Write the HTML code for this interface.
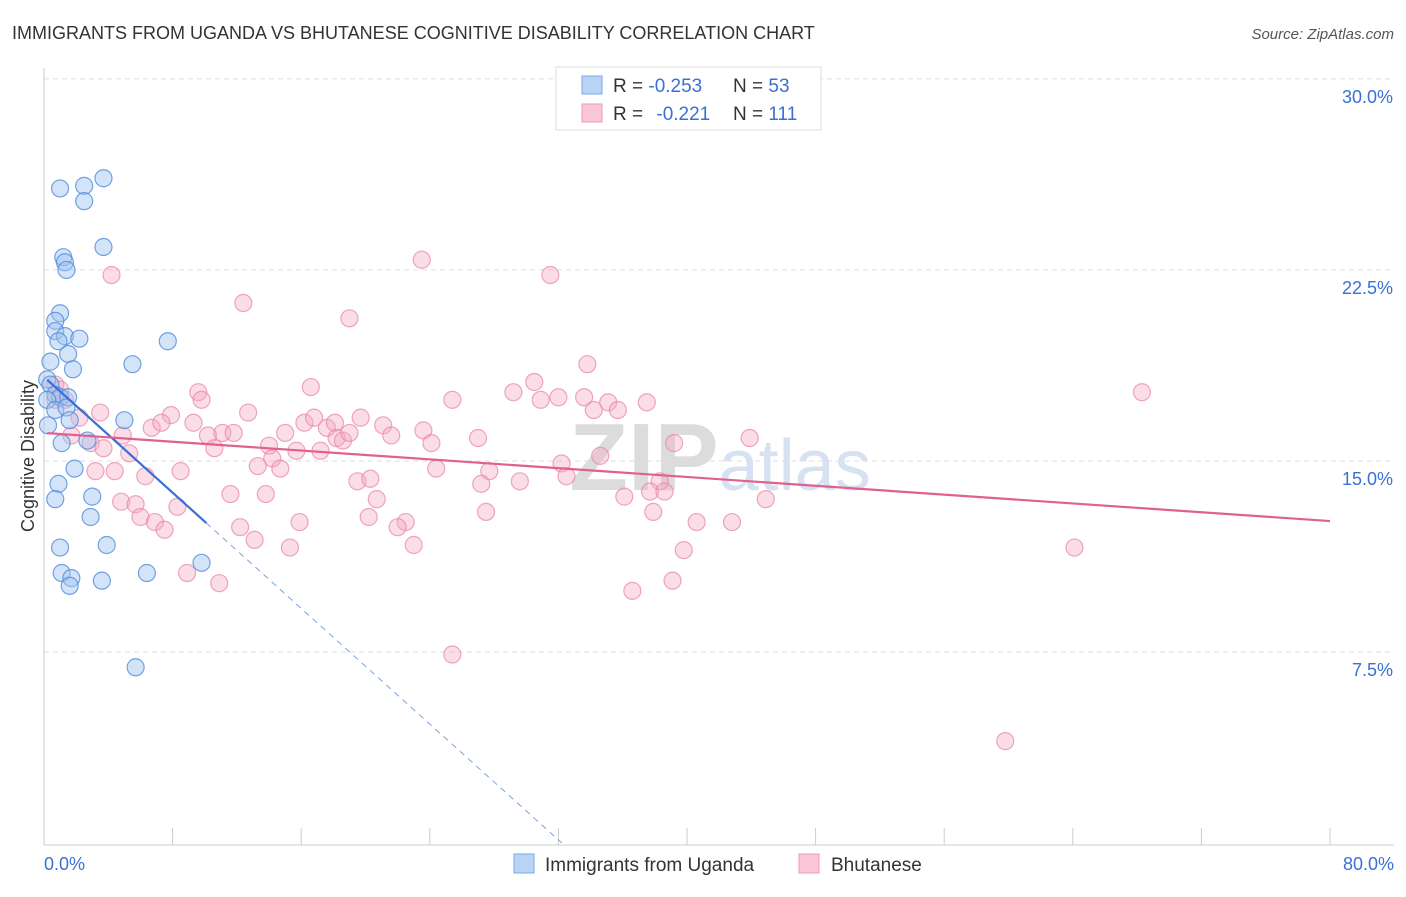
<!DOCTYPE html>
<html><head><meta charset="utf-8"><style>
body{margin:0;background:#fff;font-family:"Liberation Sans",sans-serif;}
svg text{font-family:"Liberation Sans",sans-serif;}
</style></head><body>
<svg id="chart" width="1406" height="892" viewBox="0 0 1406 892">
<text x="12" y="39" font-size="18" fill="#333">IMMIGRANTS FROM UGANDA VS BHUTANESE COGNITIVE DISABILITY CORRELATION CHART</text>
<text x="1394" y="39" font-size="15" fill="#555" font-style="italic" text-anchor="end">Source: ZipAtlas.com</text>
<text x="720" y="490" font-size="96" fill="#e4e4e4" text-anchor="middle" font-family="Liberation Serif"><tspan font-weight="bold" fill="#dcdcdc">ZIP</tspan><tspan font-size="72" fill="#d6e2f2" font-family="Liberation Sans">atlas</tspan></text>
<g id="grid"></g>
<g id="axes"></g>
<g id="pink"></g>
<g id="blue"></g>
<g id="lines"></g>
<text transform="translate(34,456) rotate(-90)" font-size="18" fill="#333" text-anchor="middle">Cognitive Disability</text>
<g>
<rect x="556" y="67" width="265" height="63" fill="#fff" stroke="#ddd"/>
<rect x="582" y="76" width="20" height="18" fill="#b9d3f5" stroke="#7aa9e6"/>
<rect x="582" y="104" width="20" height="18" fill="#f9c6d6" stroke="#ee9ab6"/>
<text x="613" y="92" font-size="19" fill="#333">R = <tspan fill="#3a70d6">-0.253</tspan><tspan x="733">N = </tspan><tspan fill="#3a70d6">53</tspan></text>
<text x="613" y="120" font-size="19" fill="#333">R = <tspan fill="#3a70d6" dx="8">-0.221</tspan><tspan x="733">N = </tspan><tspan fill="#3a70d6">111</tspan></text>
</g>
<g>
<rect x="514" y="854" width="20" height="19" fill="#b9d3f5" stroke="#7aa9e6"/>
<text x="545" y="871" font-size="19" fill="#333">Immigrants from Uganda</text>
<rect x="799" y="854" width="20" height="19" fill="#f9c6d6" stroke="#ee9ab6"/>
<text x="831" y="871" font-size="19" fill="#333">Bhutanese</text>
</g>
</svg>
<script>
const xTicks=[0,8,16,24,32,40,48,56,64,72,80];
const yTicks=[7.5,15,22.5,30];
const yTickLabels=["7.5%","15.0%","22.5%","30.0%"];
const blueX=[1.0,2.5,3.7,2.5,1.2,1.3,1.4,3.7,1.0,0.7,0.7,1.3,0.9,2.2,1.5,0.4,7.7,5.5,1.8,0.2,0.4,0.7,1.0,1.5,0.2,0.7,0.25,5.0,2.7,1.1,1.9,0.9,0.7,3.0,2.9,1.0,3.9,1.1,1.7,1.6,3.6,6.4,9.8,5.7,1.4,1.6];
const blueY=[25.7,25.8,26.1,25.2,23.0,22.8,22.5,23.4,20.8,20.5,20.1,19.9,19.7,19.8,19.2,18.9,19.7,18.8,18.6,18.2,18.0,17.6,17.5,17.5,17.4,17.0,16.4,16.6,15.8,15.7,14.7,14.1,13.5,13.6,12.8,11.6,11.7,10.6,10.4,10.1,10.3,10.6,11.0,6.9,17.1,16.6];
const pinkX=[4.2,12.4,23.5,31.5,19.0,33.8,68.3,16.6,30.5,29.2,30.9,32.0,33.6,35.1,35.7,34.2,37.5,25.4,9.6,9.8,0.7,1.0,1.3,12.7,7.9,3.5,2.2,6.7,7.3,9.3,10.2,11.1,11.8,4.9,1.7,2.9,10.6,14.0,15.0,16.2,16.8,17.6,18.1,18.2,18.6,19.0,19.7,21.1,21.6,23.6,24.1,27.0,15.7,17.2,14.2,13.3,14.7,8.5,3.2,4.4,6.3,5.3,3.7,24.4,27.7,32.2,32.5,34.6,39.2,43.9,19.5,20.3,27.2,29.6,38.3,37.7,38.6,36.1,44.9,11.6,13.8,20.7,4.8,5.7,8.3,20.2,15.9,27.5,37.9,6.0,6.9,7.5,12.2,22.5,22.0,40.6,42.8,13.1,15.3,23.0,39.8,64.1,8.9,10.9,39.1,36.6,25.4,59.8,0.7];
const pinkY=[22.3,21.2,22.9,22.3,20.6,18.8,17.7,17.9,18.1,17.7,17.4,17.5,17.5,17.3,17.0,17.0,17.3,17.4,17.7,17.4,18.0,17.8,17.4,16.9,16.8,16.9,16.7,16.3,16.5,16.5,16.0,16.1,16.1,16.0,16.0,15.7,15.5,15.6,16.1,16.5,16.7,16.3,16.5,15.9,15.8,16.1,16.7,16.4,16.0,16.2,15.7,15.9,15.4,15.4,15.1,14.8,14.7,14.6,14.6,14.6,14.4,15.3,15.5,14.7,14.6,14.9,14.4,15.2,15.7,15.9,14.2,14.3,14.1,14.2,14.2,13.8,13.8,13.6,13.5,13.7,13.7,13.5,13.4,13.3,13.2,12.8,12.6,13.0,13.0,12.8,12.6,12.3,12.4,12.6,12.4,12.6,12.6,11.9,11.6,11.7,11.5,11.6,10.6,10.2,10.3,9.9,7.4,4.0,17.4];
const blueTrend=[18.3,-0.568,10.1];   // intercept, slope, solid-end x
const pinkTrend=[16.1,12.64];          // y at x=0, y at x=80
const X=v=>44+v*16.075, Y=v=>843-v*25.47;
const NS="http://www.w3.org/2000/svg";
function mk(t,a,p){const e=document.createElementNS(NS,t);for(const k in a)e.setAttribute(k,a[k]);p.appendChild(e);return e;}
const grid=document.getElementById('grid'),axes=document.getElementById('axes');
yTicks.forEach((v,i)=>{
 const l=mk('line',{x1:44,x2:1394,y1:Y(v),y2:Y(v),stroke:'#ddd','stroke-dasharray':'5,4'},grid);
 
 
 const t=mk('text',{x:1393,y:Y(v)+24,'font-size':18,fill:'#3a70d6','text-anchor':'end'},axes);t.textContent=yTickLabels[i];
 
 
});
const ax=mk('line',{x1:44,x2:1394,y1:845,y2:845,stroke:'#ccc'},axes);


const ay=mk('line',{x1:44,x2:44,y1:68,y2:845,stroke:'#ccc'},axes);


xTicks.forEach(v=>{const t=mk('line',{x1:X(v),x2:X(v),y1:828,y2:845,stroke:'#ccc'},axes);
 
 });
const xl0=mk('text',{x:44,y:870,'font-size':18,fill:'#3a70d6'},axes);xl0.textContent=xTicks[0].toFixed(1)+'%';


const xl1=mk('text',{x:1394,y:870,'font-size':18,fill:'#3a70d6','text-anchor':'end'},axes);xl1.textContent=xTicks[xTicks.length-1].toFixed(1)+'%';


const pg=document.getElementById('pink'),bg=document.getElementById('blue');
pinkX.forEach((x,i)=>{const c=mk('circle',{cx:X(x),cy:Y(pinkY[i]),r:8.5,fill:'rgba(246,170,196,0.4)',stroke:'rgba(232,130,165,0.7)','stroke-width':1.2},pg);
 
 });
blueX.forEach((x,i)=>{const c=mk('circle',{cx:X(x),cy:Y(blueY[i]),r:8.5,fill:'rgba(160,196,240,0.45)',stroke:'rgba(80,140,220,0.8)','stroke-width':1.2},bg);
 
 });
const lg=document.getElementById('lines');
const bf=v=>blueTrend[0]+blueTrend[1]*v;
const bl=mk('line',{x1:X(0.2),y1:Y(bf(0.2)),x2:X(blueTrend[2]),y2:Y(bf(blueTrend[2])),stroke:'#3a70d6','stroke-width':2.2},lg);


const xe=-blueTrend[0]/blueTrend[1];
const bd=mk('line',{x1:X(blueTrend[2]),y1:Y(bf(blueTrend[2])),x2:X(xe),y2:Y(0),stroke:'#7aa3e0','stroke-width':1,'stroke-dasharray':'6,5'},lg);


const pl=mk('line',{x1:X(0.2),y1:Y(pinkTrend[0]+(pinkTrend[1]-pinkTrend[0])*0.2/80),x2:X(80),y2:Y(pinkTrend[1]),stroke:'#e0608e','stroke-width':2.2},lg);


</script>
</body></html>
